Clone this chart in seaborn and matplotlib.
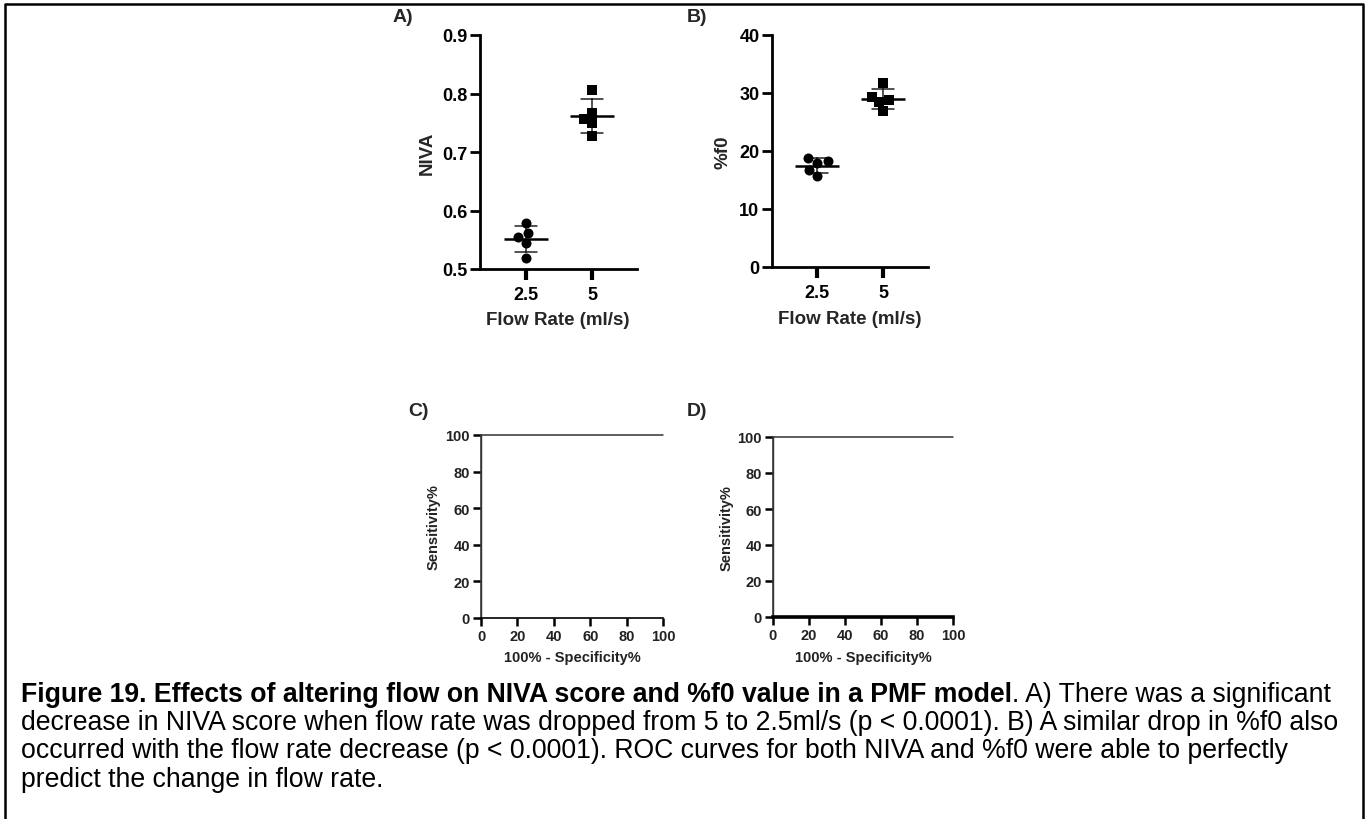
import numpy as np
import pandas as pd
import matplotlib
matplotlib.use("Agg")
import matplotlib.pyplot as plt
import seaborn as sns
from matplotlib.lines import Line2D

# ---------------- data ----------------
flow_levels = ["2.5", "5"]
niva_flow_25 = [0.579, 0.555, 0.561, 0.544, 0.518]
niva_flow_5 = [0.806, 0.767, 0.757, 0.749, 0.728]
f0_flow_25 = [18.77, 18.20, 17.91, 16.75, 15.62]
f0_flow_5 = [31.68, 29.39, 28.74, 28.41, 26.98]
roc_fpr = [0, 0, 100]
roc_sens = [0, 100, 100]
niva_ticks = [0.5, 0.6, 0.7, 0.8, 0.9]
f0_ticks = [0, 10, 20, 30, 40]
roc_ticks = [0, 20, 40, 60, 80, 100]

caption_bold = "Figure 19. Effects of altering flow on NIVA score and %f0 value in a PMF model"
caption_rest = [
    ". A) There was a significant",
    "decrease in NIVA score when flow rate was dropped from 5 to 2.5ml/s (p < 0.0001). B) A similar drop in %f0 also",
    "occurred with the flow rate decrease (p < 0.0001). ROC curves for both NIVA and %f0 were able to perfectly",
    "predict the change in flow rate.",
]

# ---------------- style ----------------
sns.set_theme(style="ticks")
plt.rcParams['font.family'] = ['Liberation Sans', 'DejaVu Sans']
plt.rcParams['font.weight'] = 'bold'
plt.rcParams['axes.labelweight'] = 'bold'

W, H = 1367, 820
fig = plt.figure(figsize=(W / 100, H / 100), dpi=100)


def px_axes(left, top, right, bottom):
    return fig.add_axes([left / W, 1 - bottom / H, (right - left) / W, (bottom - top) / H])


def dotplot(ax, g25, g5, ticks, ylabel, fmt, ylab_x, xlab_y):
    df = pd.DataFrame({
        "flow": [flow_levels[0]] * len(g25) + [flow_levels[1]] * len(g5),
        "val": list(g25) + list(g5),
    })
    sns.swarmplot(data=df[df.flow == flow_levels[0]], x="flow", y="val", order=flow_levels,
                  marker="o", size=7.2, color="black", ax=ax)
    sns.swarmplot(data=df[df.flow == flow_levels[1]], x="flow", y="val", order=flow_levels,
                  marker="s", size=6.6, color="black", ax=ax)
    sns.pointplot(data=df, x="flow", y="val", order=flow_levels, errorbar="sd", capsize=0.33,
                  color="black", marker="_", markersize=32, markeredgewidth=1.8,
                  linestyle="none", err_kws={"linewidth": 1.1, "color": "#222222"}, ax=ax)
    ax.set_xlim(-0.69, 1.68)
    ax.set_ylim(ticks[0], ticks[-1])
    ax.set_yticks(ticks)
    ax.set_yticklabels([fmt.format(t) for t in ticks])
    sns.despine(ax=ax)
    for s in ("left", "bottom"):
        ax.spines[s].set_linewidth(2.0)
        ax.spines[s].set_color("black")
    ax.tick_params(axis="y", direction="out", length=7, width=2.0, labelsize=13, pad=2, colors="black")
    ax.tick_params(axis="x", direction="out", length=8, width=3.0, labelsize=13, pad=4, colors="black")
    for lab in ax.get_xticklabels() + ax.get_yticklabels():
        lab.set_fontweight("bold")
    ax.set_ylabel(ylabel, fontsize=13.5, fontweight="bold")
    ax.set_xlabel("Flow Rate (ml/s)", fontsize=13.5, fontweight="bold")
    ax.yaxis.set_label_coords(ylab_x, 0.5)
    ax.yaxis.label.set_verticalalignment("center")
    ax.xaxis.set_label_coords(0.497, xlab_y)
    ax.xaxis.label.set_verticalalignment("center")
    ax.set_facecolor("white")


def rocplot(ax, bottom_lw, ylab_x, xlab_y):
    roc_df = pd.DataFrame({"fpr": roc_fpr, "sens": roc_sens})
    sns.lineplot(data=roc_df, x="fpr", y="sens", estimator=None, sort=False,
                 color="#333333", linewidth=1.1, ax=ax)
    for ln in ax.lines:
        ln.set_clip_on(False)
    ax.set_xlim(0, 100)
    ax.set_ylim(0, 100)
    ax.set_xticks(roc_ticks)
    ax.set_yticks(roc_ticks)
    sns.despine(ax=ax)
    ax.spines["left"].set_linewidth(1.0)
    ax.spines["left"].set_color("#333333")
    ax.spines["bottom"].set_linewidth(bottom_lw)
    ax.spines["bottom"].set_color("black")
    ax.tick_params(axis="both", direction="out", length=6, width=1.8, labelsize=10.5, pad=2, colors="black")
    for lab in ax.get_xticklabels() + ax.get_yticklabels():
        lab.set_fontweight("bold")
        lab.set_color("#222222")
    ax.set_ylabel("Sensitivity%", fontsize=10.5, fontweight="bold", color="#222222")
    ax.set_xlabel("100% - Specificity%", fontsize=10.5, fontweight="bold", color="#222222")
    ax.yaxis.set_label_coords(ylab_x, 0.5)
    ax.yaxis.label.set_verticalalignment("center")
    ax.xaxis.set_label_coords(0.5, xlab_y)
    ax.xaxis.label.set_verticalalignment("center")


axA = px_axes(480, 36, 637, 270)
axB = px_axes(772, 36, 928, 268)
axC = px_axes(481, 436, 663, 619)
axD = px_axes(773, 438, 953, 618)

dotplot(axA, niva_flow_25, niva_flow_5, niva_ticks, "NIVA", "{:.1f}", -0.338, -0.214)
dotplot(axB, f0_flow_25, f0_flow_5, f0_ticks, "%f0", "{:d}", -0.314, -0.224)
rocplot(axC, 1.2, -0.258, -0.213)
rocplot(axD, 2.6, -0.256, -0.222)

# panel letters
for lbl, x, y in [("A)", 393, 18), ("B)", 687, 18), ("C)", 408, 412), ("D)", 687, 412)]:
    fig.text(x / W, 1 - y / H, lbl, fontsize=14, fontweight="bold", ha="left", va="center")

# border (left, top, right)
fig.add_artist(Line2D([5 / W, 5 / W, 1363 / W, 1363 / W], [0, 1 - 5 / H, 1 - 5 / H, 0],
                      color="black", linewidth=1.8, transform=fig.transFigure))

# caption
cap_fs = 19.2
x0 = 21 / W
baselines = [701.7, 730.0, 758.3, 786.7]
renderer = fig.canvas.get_renderer()
t1 = fig.text(x0, 1 - baselines[0] / H, caption_bold, fontsize=cap_fs, fontweight="bold",
              ha="left", va="baseline", color="black")
bb = t1.get_window_extent(renderer=renderer)
fig.text(bb.x1 / fig.bbox.width, 1 - baselines[0] / H, caption_rest[0], fontsize=cap_fs,
         fontweight="normal", ha="left", va="baseline", color="black")
for line, yb in zip(caption_rest[1:], baselines[1:]):
    fig.text(x0, 1 - yb / H, line, fontsize=cap_fs, fontweight="normal",
             ha="left", va="baseline", color="black")

fig.savefig("out.png", dpi=100, facecolor="white")
